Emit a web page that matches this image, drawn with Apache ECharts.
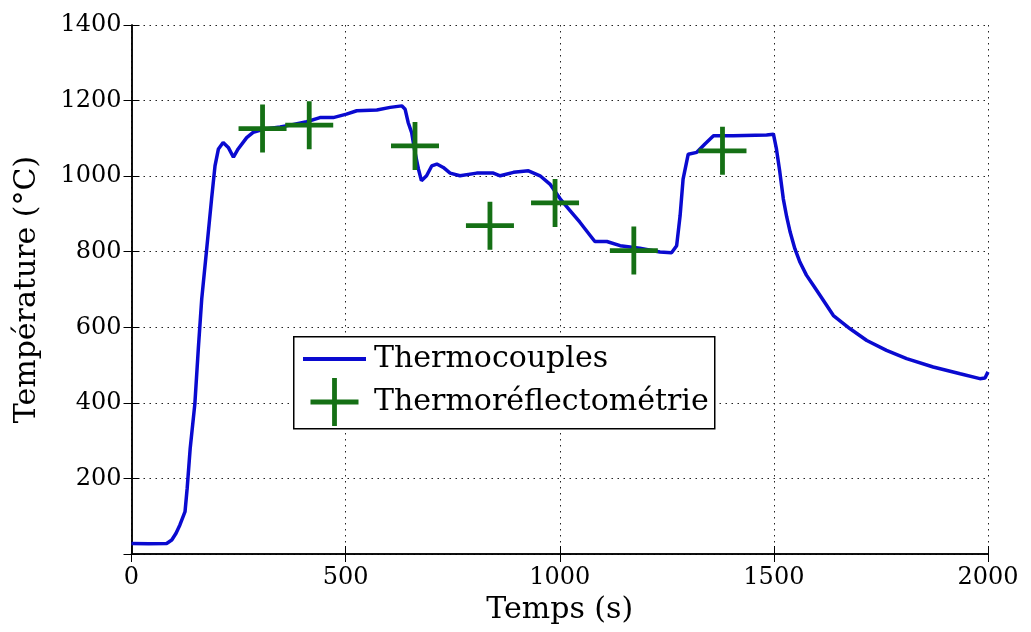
<!DOCTYPE html>
<html>
<head>
<meta charset="utf-8">
<script src="https://cdn.jsdelivr.net/npm/echarts@6/dist/echarts.min.js"></script>
<style>
html,body{margin:0;padding:0;background:#fff;}
#chart{width:1031px;height:632px;}
</style>
</head>
<body>
<div id="chart"></div>
<script>
// Thermocouples: [time (s), temperature (°C)]
var thermoTime = [0, 40, 82, 94, 104, 113, 125, 130, 137, 148, 156, 164, 176, 187, 195, 203, 214, 226, 238, 249, 269, 284, 308, 347, 370, 409, 440, 471, 502, 526, 573, 604, 631, 639, 646, 654, 662, 670, 677, 689, 701, 713, 728, 744, 767, 806, 845, 861, 892, 927, 954, 977, 1001, 1024, 1047, 1071, 1082, 1110, 1141, 1187, 1234, 1261, 1273, 1281, 1288, 1300, 1320, 1339, 1359, 1405, 1483, 1499, 1506, 1514, 1522, 1530, 1538, 1549, 1561, 1576, 1592, 1608, 1639, 1678, 1717, 1763, 1810, 1872, 1935, 1981, 1993, 2000];
var thermoTemp = [28, 27, 28, 37, 55, 77, 112, 174, 279, 398, 543, 675, 812, 940, 1027, 1072, 1089, 1076, 1050, 1072, 1102, 1116, 1124, 1130, 1135, 1144, 1155, 1155, 1164, 1173, 1175, 1182, 1186, 1177, 1142, 1116, 1063, 1019, 988, 1001, 1027, 1032, 1023, 1008, 1001, 1008, 1008, 1001, 1010, 1014, 1001, 979, 940, 909, 878, 843, 827, 827, 816, 809, 799, 797, 816, 895, 992, 1058, 1063, 1085, 1107, 1107, 1109, 1111, 1072, 1010, 940, 892, 852, 808, 772, 738, 711, 684, 631, 596, 565, 539, 517, 495, 477, 464, 466, 482];
// Thermoréflectométrie measurements
var reflTime = [306, 415, 662, 837, 989, 1173, 1380];
var reflTemp = [1126, 1135, 1080, 869, 929, 803, 1067];
var xTicks = [0, 500, 1000, 1500, 2000];
var yTicks = [200, 400, 600, 800, 1000, 1200, 1400];
var seriesNames = ['Thermocouples', 'Thermoréflectométrie'];

var FONT = 'DejaVu Serif';
var plusPath = 'path://M-24,-2.4 L24,-2.4 L24,2.4 L-24,2.4 Z M-2.4,-24 L2.4,-24 L2.4,24 L-2.4,24 Z';
// line legend icon: visible bar in the middle, zero-area anchors at top and bottom
var linePath = 'path://M0,0 L0.01,0 Z M0,22 L63,22 L63,26 L0,26 Z M0,48 L0.01,48 Z';

var lineData = thermoTime.map(function (t, i) { return [t, thermoTemp[i]]; });
var scatterData = reflTime.map(function (t, i) { return [t, reflTemp[i]]; });

var gridLine = { show: true, lineStyle: { color: '#222', width: 1, type: [1.5, 4.5] } };
var tickIn = { show: true, inside: true, length: 8, lineStyle: { color: '#000', width: 1 } };
var axLine = { show: true, lineStyle: { color: '#000', width: 1.5 } };
var plain = function (v) { return String(v); };

var chart = echarts.init(document.getElementById('chart'), null, { renderer: 'canvas' });
chart.setOption({
  backgroundColor: '#fff',
  animation: false,
  grid: { left: 131.5, right: 43, top: 25, bottom: 78, containLabel: false },
  graphic: [{
    type: 'rect', left: 293, top: 336, z: 5,
    shape: { width: 421, height: 92 },
    style: { fill: '#fff', stroke: '#000', lineWidth: 1.5 }
  }],
  legend: {
    orient: 'vertical', left: 293, top: 335, z: 10,
    padding: [0, 10, 0, 10],
    itemWidth: 63, itemHeight: 48, itemGap: -5,
    textStyle: { fontFamily: FONT, fontSize: 30, color: '#000', padding: [0, 0, 0, 3] },
    data: [
      { name: seriesNames[0], icon: linePath },
      { name: seriesNames[1], icon: plusPath }
    ]
  },
  xAxis: [{
    type: 'value', min: xTicks[0], max: xTicks[xTicks.length - 1], interval: 500,
    position: 'bottom',
    name: 'Temps (s)', nameLocation: 'middle', nameGap: 37,
    nameTextStyle: { fontFamily: FONT, fontSize: 30, color: '#000' },
    axisLine: axLine, axisTick: tickIn,
    axisLabel: { fontFamily: FONT, fontSize: 24, color: '#000', margin: 12, formatter: plain },
    splitLine: gridLine
  }, {
    type: 'value', min: xTicks[0], max: xTicks[xTicks.length - 1], interval: 500,
    position: 'top',
    axisLine: axLine, axisTick: tickIn, axisLabel: { show: false }, splitLine: { show: false }
  }],
  yAxis: [{
    type: 'value', min: 0, max: yTicks[yTicks.length - 1], interval: 200,
    position: 'left',
    name: 'Température (°C)', nameLocation: 'middle', nameGap: 89,
    nameTextStyle: { fontFamily: FONT, fontSize: 30, color: '#000' },
    axisLine: axLine, axisTick: tickIn,
    axisLabel: {
      fontFamily: FONT, fontSize: 24, color: '#000', margin: 10,
      formatter: function (v) { return yTicks.indexOf(v) >= 0 ? String(v) : ''; }
    },
    splitLine: gridLine
  }, {
    type: 'value', min: 0, max: yTicks[yTicks.length - 1], interval: 200,
    position: 'right',
    axisLine: axLine, axisTick: tickIn, axisLabel: { show: false }, splitLine: { show: false }
  }],
  series: [{
    name: seriesNames[0], type: 'line', data: lineData,
    xAxisIndex: 0, yAxisIndex: 0,
    showSymbol: false, symbol: 'none', smooth: false,
    itemStyle: { color: '#0a0ad0' },
    lineStyle: { color: '#0a0ad0', width: 3.5 },
    z: 3
  }, {
    name: seriesNames[1], type: 'scatter', data: scatterData,
    xAxisIndex: 0, yAxisIndex: 0,
    symbol: plusPath, symbolSize: 48,
    itemStyle: { color: '#157015', opacity: 1 },
    z: 4
  }]
});
</script>
</body>
</html>
